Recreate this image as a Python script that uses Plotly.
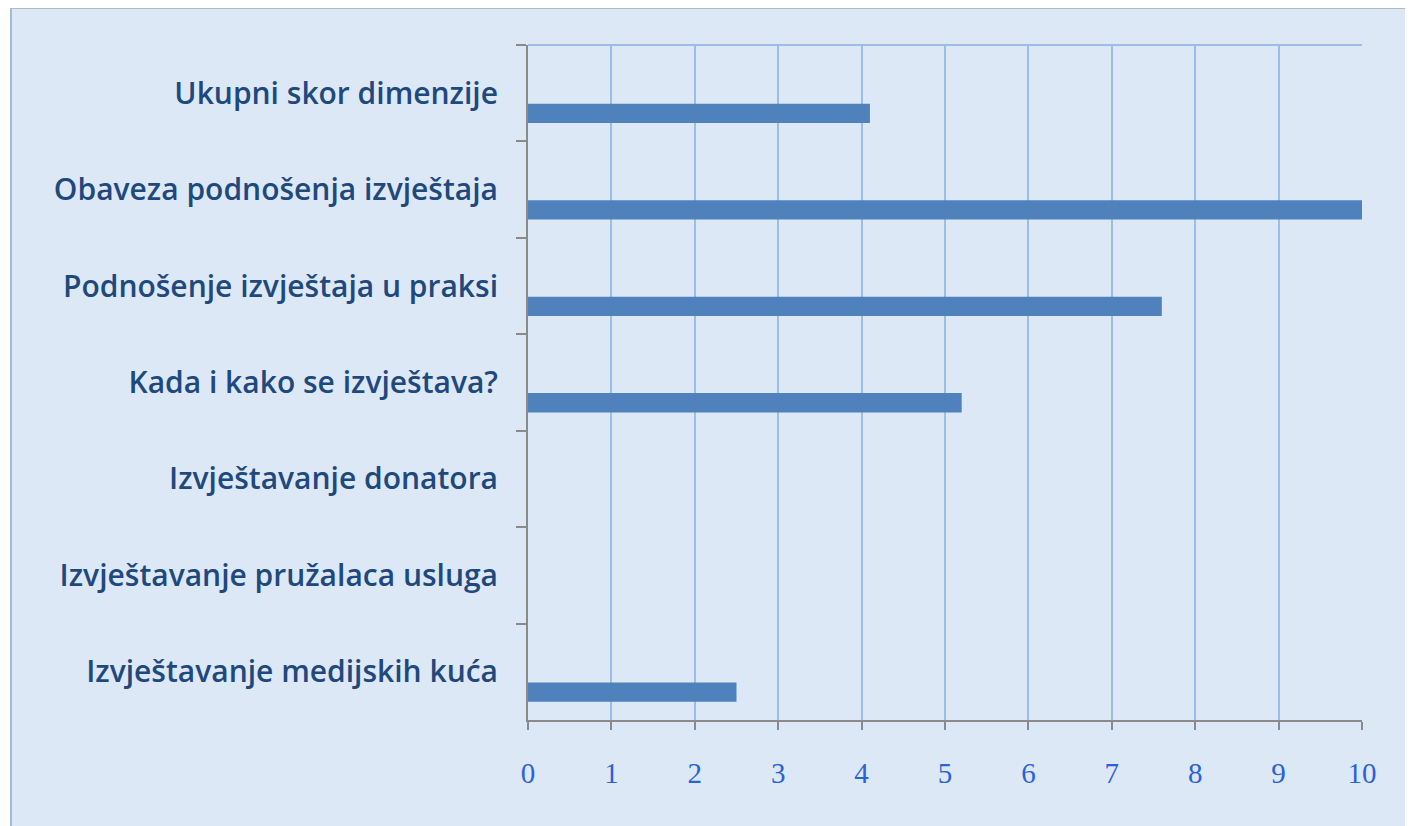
import plotly.graph_objects as go

categories = [
    "Ukupni skor dimenzije",
    "Obaveza podnošenja izvještaja",
    "Podnošenje izvještaja u praksi",
    "Kada i kako se izvještava?",
    "Izvještavanje donatora",
    "Izvještavanje pružalaca usluga",
    "Izvještavanje medijskih kuća",
]
values = [4.1, 10, 7.6, 5.2, 0, 0, 2.5]
x_ticks = list(range(0, 11))

# the page body adds an 8px offset; compensate in margins
OFF = 8
W, H = 1413, 826
L, R, T, B = 528 - OFF, 51 + OFF, 45 - OFF, 106 + OFF
pw, ph = W - L - R, H - T - B

def px_x(p):
    return (p - OFF - L) / pw

def px_y(p):
    return (H - B - (p - OFF)) / ph

fig = go.Figure()
fig.add_trace(go.Bar(
    y=categories, x=values, orientation="h",
    width=0.2, offset=0.11,
    marker=dict(color="#4f81bd", line=dict(width=0)),
    hoverinfo="x+y",
))

fig.update_layout(
    width=W, height=H,
    margin=dict(l=L, r=R, t=T, b=B, pad=0),
    paper_bgcolor="white",
    plot_bgcolor="rgba(0,0,0,0)",
    showlegend=False,
    shapes=[
        dict(type="rect", xref="paper", yref="paper",
             x0=px_x(11), x1=px_x(1440), y0=px_y(850), y1=px_y(8),
             fillcolor="#dce8f6", line=dict(color="#a3bad8", width=2), layer="below"),
        dict(type="line", xref="paper", yref="paper",
             x0=px_x(11), x1=px_x(1440), y0=px_y(8), y1=px_y(8),
             line=dict(color="#b3b9c2", width=2), layer="below"),
        dict(type="line", xref="paper", yref="paper",
             x0=0, x1=1, y0=1, y1=1,
             line=dict(color="#9dbde6", width=2), layer="below"),
    ],
    xaxis=dict(
        range=[0, 10], tickvals=x_ticks, ticktext=[str(v) for v in x_ticks],
        showgrid=True, gridcolor="#9dbde6", gridwidth=2,
        showline=True, linecolor="#8a8a8a", linewidth=2,
        ticks="outside", ticklen=8, tickwidth=2, tickcolor="#8a8a8a",
        tickfont=dict(family="Liberation Serif", size=29, color="#2a62d8"),
        ticklabelstandoff=18, zeroline=False, fixedrange=True,
    ),
    yaxis=dict(
        categoryorder="array", categoryarray=categories,
        range=[6.5, -0.5],
        tickson="boundaries",
        showgrid=False,
        showline=True, linecolor="#8a8a8a", linewidth=2,
        ticks="outside", ticklen=10, tickwidth=2, tickcolor="#8a8a8a",
        tickfont=dict(family="Open Sans", size=30, color="#1f497d", weight=600),
        ticklabelstandoff=22, zeroline=False, fixedrange=True,
    ),
)

fig.write_html("out.html")
